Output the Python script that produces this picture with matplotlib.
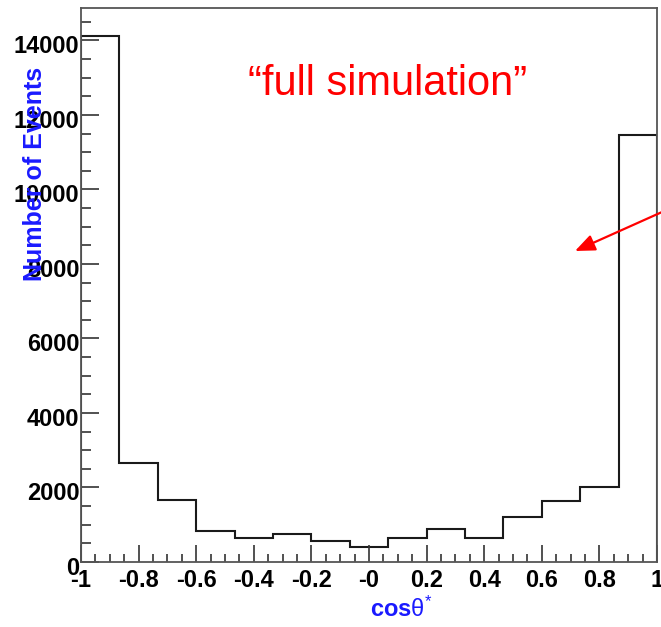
import matplotlib
matplotlib.use("Agg")
import matplotlib.pyplot as plt
import matplotlib.transforms as mtransforms
import numpy as np

plt.rcParams['font.family'] = 'Liberation Sans'
plt.rcParams['mathtext.fontset'] = 'custom'
plt.rcParams['mathtext.rm'] = 'Liberation Sans'
plt.rcParams['mathtext.bf'] = 'Liberation Sans:bold'
plt.rcParams['mathtext.it'] = 'Liberation Sans:italic'

# cos(theta*) histogram, 15 bins over [-1, 1]
bin_edges = np.linspace(-1.0, 1.0, 16)
counts = [14130, 2668, 1675, 826, 655, 760, 556, 415, 655,
          897, 655, 1206, 1640, 2022, 11470]

x_ticks = [-1, -0.8, -0.6, -0.4, -0.2, 0, 0.2, 0.4, 0.6, 0.8, 1]
x_tick_labels = ['-1', '-0.8', '-0.6', '-0.4', '-0.2', '-0',
                 '0.2', '0.4', '0.6', '0.8', '1']
y_ticks = [0, 2000, 4000, 6000, 8000, 10000, 12000, 14000]

fig = plt.figure(figsize=(6.61, 6.27), dpi=100)
ax = fig.add_axes([81 / 661, 65 / 627, 576 / 661, 554 / 627])

ax.stairs(counts, bin_edges, color='#1a1a1a', lw=1.5)

ax.set_xlim(-1, 1)
ax.set_ylim(0, 14870)

ax.set_xticks(x_ticks)
ax.set_xticklabels(x_tick_labels)
ax.set_xticks(np.arange(-1, 1.0001, 0.05), minor=True)
ax.set_yticks(y_ticks)
ax.set_yticks(np.arange(0, 14501, 500), minor=True)

for s in ax.spines.values():
    s.set_color('#555555')
    s.set_linewidth(1.3)

ax.tick_params(axis='both', which='both', direction='in', colors='#333333',
               labelcolor='black', top=False, right=False)
ax.tick_params(axis='x', which='major', length=12, width=1.2, pad=5)
ax.tick_params(axis='x', which='minor', length=5.5, width=1.2)
ax.tick_params(axis='y', which='major', length=13, width=1.2, pad=1)
ax.tick_params(axis='y', which='minor', length=7, width=1.2)

for lab in ax.get_xticklabels() + ax.get_yticklabels():
    lab.set_fontsize(17)
    lab.set_fontweight('bold')

# y labels sit a little below their ticks
shift = mtransforms.ScaledTranslation(0, -4 / 100, fig.dpi_scale_trans)
for lab in ax.get_yticklabels():
    lab.set_transform(lab.get_transform() + shift)

fig.text(35 / 661, 1 - 174 / 627, 'Number of Events', rotation=90,
         ha='center', va='center', fontsize=18, fontweight='bold',
         color='#1a1aff')
fig.text(401 / 661, 1 - 617 / 627, r'$\mathbf{cos}\mathrm{\theta}^{*}$',
         ha='center', va='baseline', fontsize=17, color='#1a1aff')

fig.text(388 / 661, 1 - 95 / 627, '\u201cfull simulation\u201d',
         ha='center', va='baseline', fontsize=30, color='red')

ax.annotate('', xy=(575 / 661, 1 - 251 / 627), xycoords='figure fraction',
            xytext=(1.005, 1 - 211 / 627), textcoords='figure fraction',
            arrowprops=dict(arrowstyle='-|>,head_length=0.6,head_width=0.25',
                            color='red', lw=1.6, mutation_scale=20,
                            shrinkA=0, shrinkB=0),
            annotation_clip=False)

fig.savefig('out.png', dpi=100)
